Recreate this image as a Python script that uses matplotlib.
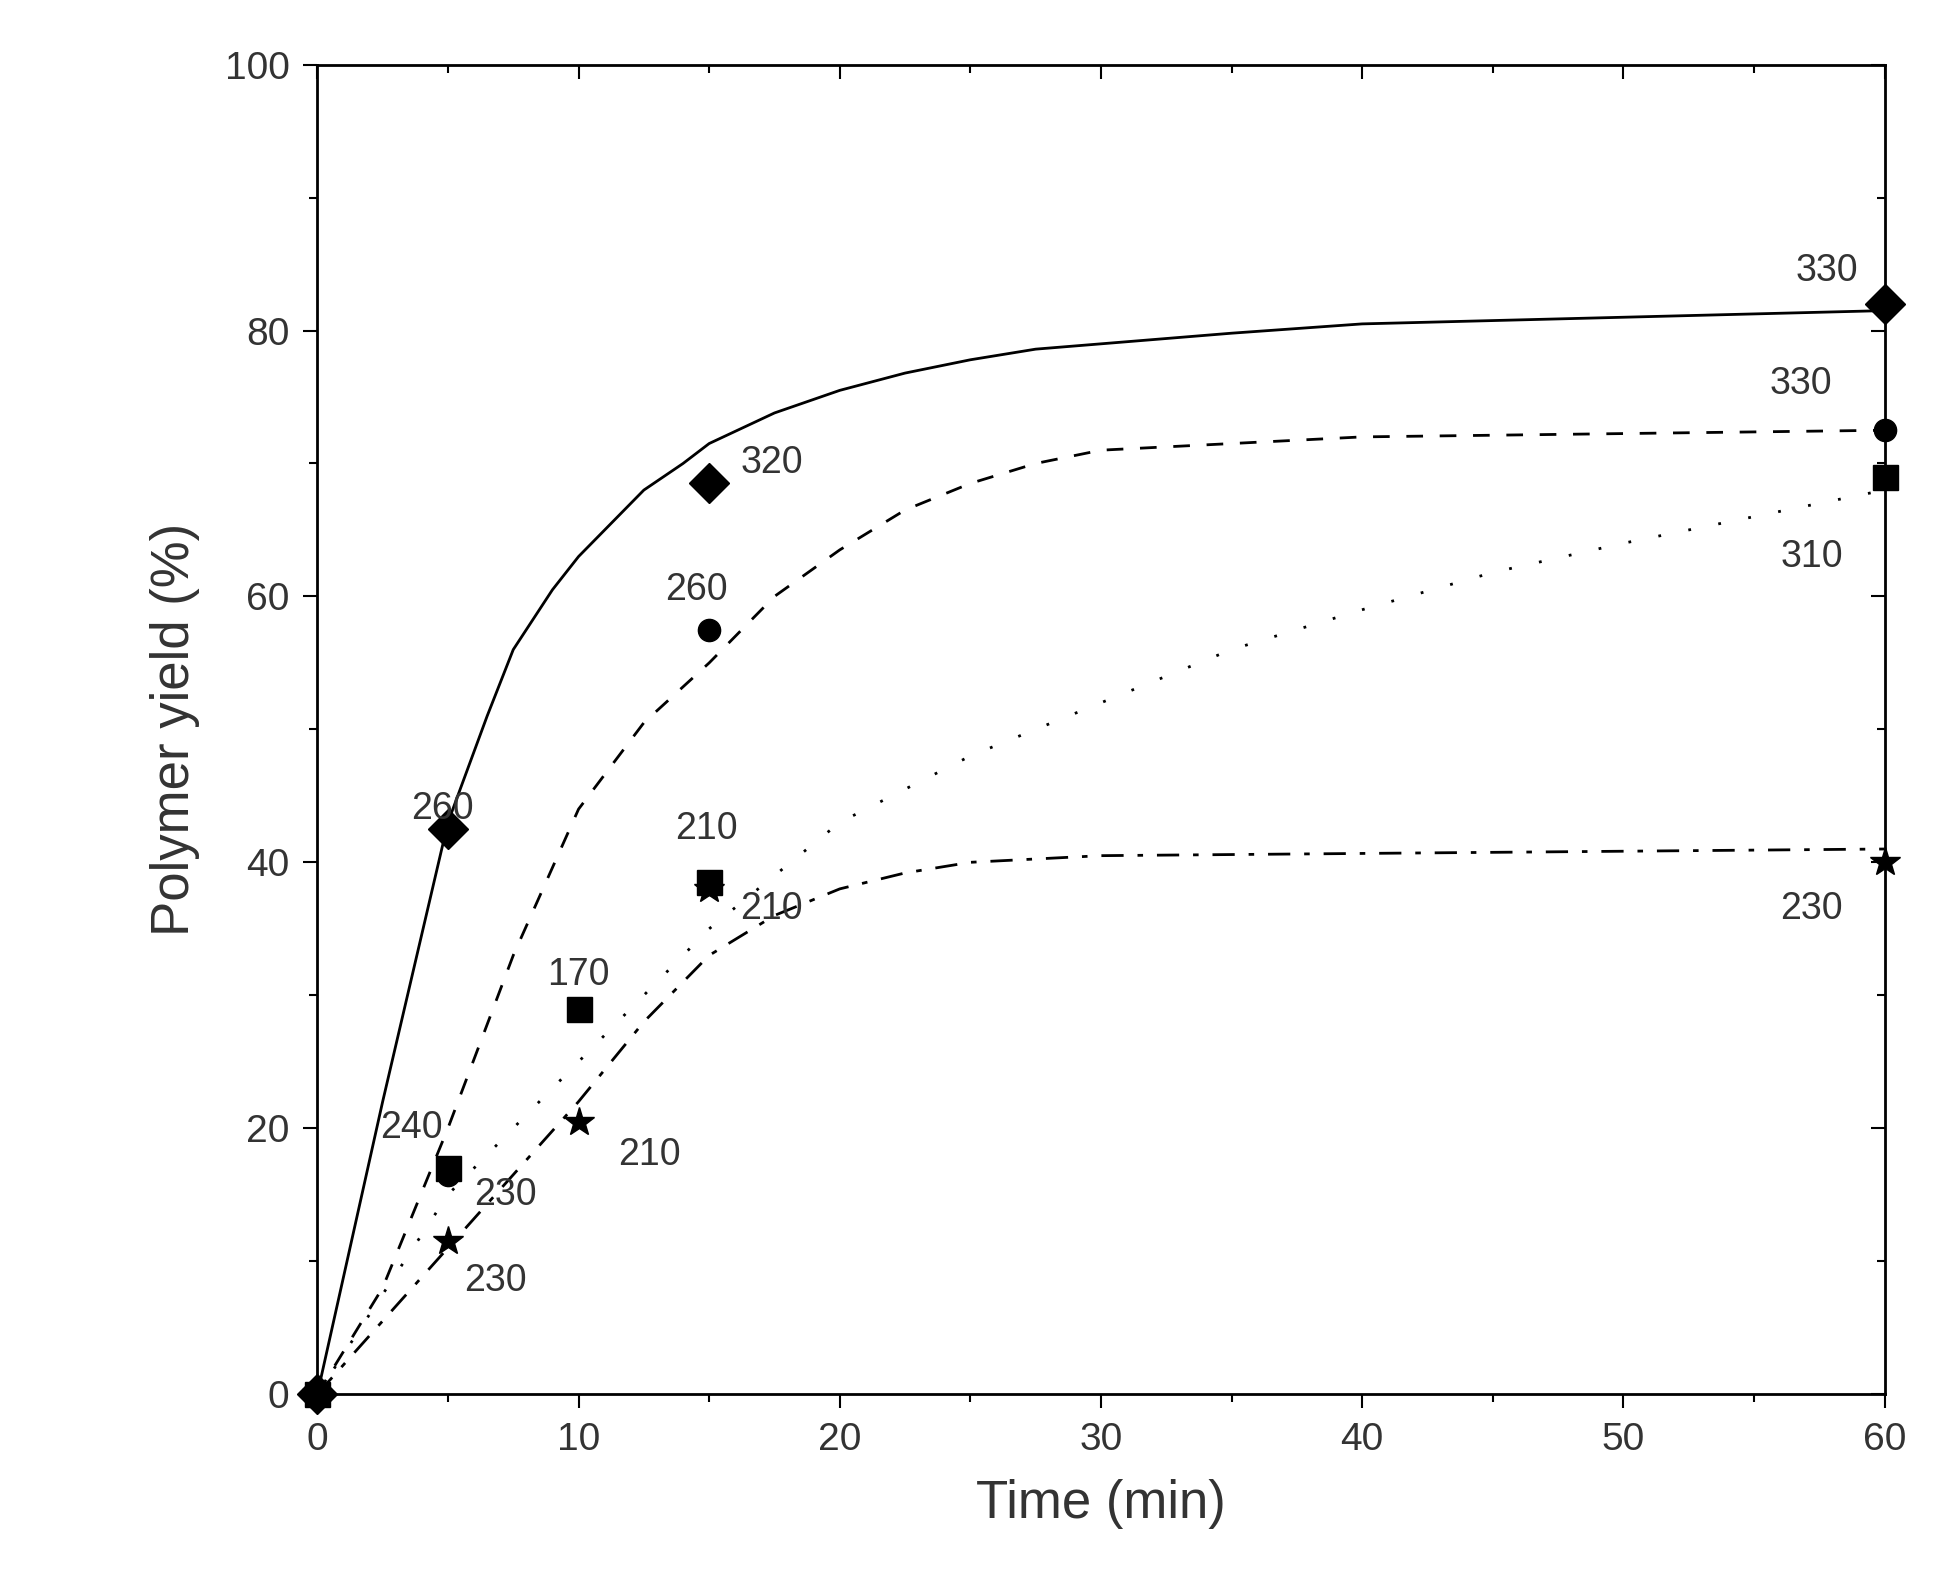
import matplotlib.pyplot as plt
from matplotlib.ticker import MultipleLocator

plt.rcParams['font.family'] = ['Liberation Sans', 'DejaVu Sans']

# measured points
t_dia = [0, 5, 15, 60]
y_dia = [0, 42.5, 68.5, 82]
t_cir = [0, 5, 15, 60]
y_cir = [0, 16.5, 57.5, 72.5]
t_sq = [0, 5, 10, 15, 60]
y_sq = [0, 17, 29, 38.5, 69]
t_star = [0, 5, 10, 15, 60]
y_star = [0, 11.5, 20.5, 38, 40]

# fitted curves
c1_t = [0, 2.5, 5, 6.5, 7.5, 9, 10, 11.5, 12.5, 14, 15, 17.5, 20, 22.5, 25, 27.5, 30, 35, 40, 50, 60]
c1_y = [0, 22, 43, 51, 56, 60.5, 63, 66, 68, 70, 71.5, 73.8, 75.5, 76.8, 77.8, 78.6, 79, 79.8, 80.5, 81, 81.5]
c2_t = [0, 2.5, 5, 7.5, 10, 12.5, 15, 17.5, 20, 22.5, 25, 27.5, 30, 40, 60]
c2_y = [0, 8, 20, 33, 44, 50.5, 55, 60, 63.5, 66.5, 68.5, 70, 71, 72, 72.5]
c3_t = [0, 5, 10, 15, 20, 25, 30, 35, 40, 45, 50, 55, 60]
c3_y = [0, 15, 25, 35, 43, 48, 52, 56, 59, 61.8, 64, 66, 68]
c4_t = [0, 5, 10, 12.5, 15, 17.5, 20, 22.5, 25, 30, 60]
c4_y = [0, 11, 22, 28, 33, 36, 38, 39.2, 40, 40.5, 41]

labels = ["260", "320", "260", "210", "210", "170", "240", "230", "210", "230",
          "330", "330", "310", "230"]
label_x = [3.6, 16.2, 13.3, 13.7, 16.2, 8.8, 2.4, 6.0, 11.5, 5.6, 56.6, 55.6, 56.0, 56.0]
label_y = [44, 70, 60.5, 42.5, 36.5, 31.5, 20, 15, 18, 8.5, 84.5, 76, 63, 36.5]

fig = plt.figure(figsize=(19.59, 15.77), dpi=100)
ax = fig.add_axes([0.162, 0.116, 0.800, 0.843])

ax.plot(c1_t, c1_y, color='black', lw=2, ls='-')
ax.plot(c2_t, c2_y, color='black', lw=2, ls=(0, (6, 6)))
ax.plot(c3_t, c3_y, color='black', lw=2, ls=(0, (1, 10)))
ax.plot(c4_t, c4_y, color='black', lw=2, ls=(0, (8, 5, 2, 5)))

ax.plot(t_dia, y_dia, 'D', color='black', ms=20, clip_on=False)
ax.plot(t_cir, y_cir, 'o', color='black', ms=16, clip_on=False)
ax.plot(t_sq, y_sq, 's', color='black', ms=18, clip_on=False)
ax.plot(t_star, y_star, '*', color='black', ms=22, clip_on=False)

for s, x, y in zip(labels, label_x, label_y):
    ax.text(x, y, s, fontsize=27, color='#333333', ha='left', va='center')

ax.set_xlim(0, 60)
ax.set_ylim(0, 100)
ax.xaxis.set_major_locator(MultipleLocator(10))
ax.xaxis.set_minor_locator(MultipleLocator(5))
ax.yaxis.set_major_locator(MultipleLocator(20))
ax.yaxis.set_minor_locator(MultipleLocator(10))
ax.tick_params(which='both', direction='out', labelsize=28,
               labelcolor='#333333', width=1.5, pad=10)
ax.tick_params(which='major', length=10)
ax.tick_params(which='minor', length=6)
for sp in ax.spines.values():
    sp.set_linewidth(2)
# inward ticks on top and right
ax2 = ax.secondary_xaxis('top')
ax2.xaxis.set_major_locator(MultipleLocator(10))
ax2.xaxis.set_minor_locator(MultipleLocator(5))
ax2.tick_params(which='both', direction='in', labeltop=False, width=1.5)
ax2.tick_params(which='major', length=10)
ax2.tick_params(which='minor', length=6)
ay2 = ax.secondary_yaxis('right')
ay2.yaxis.set_major_locator(MultipleLocator(20))
ay2.yaxis.set_minor_locator(MultipleLocator(10))
ay2.tick_params(which='both', direction='in', labelright=False, width=1.5)
ay2.tick_params(which='major', length=10)
ay2.tick_params(which='minor', length=6)

ax.set_xlabel('Time (min)', fontsize=38, color='#333333', labelpad=15)
ax.set_ylabel('Polymer yield (%)', fontsize=38, color='#333333', labelpad=18)

fig.savefig('out.png', dpi=100)
